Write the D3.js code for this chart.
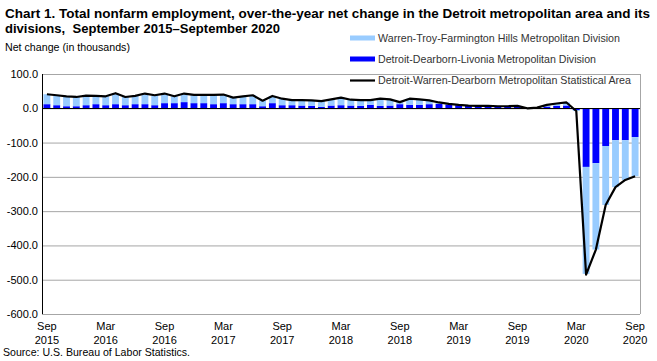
<!DOCTYPE html>
<html><head><meta charset="utf-8">
<script src="https://cdn.jsdelivr.net/npm/d3@7"></script>
<style>body{margin:0;background:#fff}svg{display:block;font-family:"Liberation Sans",Arial,sans-serif}</style>
</head><body><svg id="c" width="657" height="361"></svg>
<script>
const categories = [
"Sep 2015","Oct 2015","Nov 2015","Dec 2015","Jan 2016","Feb 2016","Mar 2016","Apr 2016","May 2016","Jun 2016","Jul 2016","Aug 2016",
"Sep 2016","Oct 2016","Nov 2016","Dec 2016","Jan 2017","Feb 2017","Mar 2017","Apr 2017","May 2017","Jun 2017","Jul 2017","Aug 2017",
"Sep 2017","Oct 2017","Nov 2017","Dec 2017","Jan 2018","Feb 2018","Mar 2018","Apr 2018","May 2018","Jun 2018","Jul 2018","Aug 2018",
"Sep 2018","Oct 2018","Nov 2018","Dec 2018","Jan 2019","Feb 2019","Mar 2019","Apr 2019","May 2019","Jun 2019","Jul 2019","Aug 2019",
"Sep 2019","Oct 2019","Nov 2019","Dec 2019","Jan 2020","Feb 2020","Mar 2020","Apr 2020","May 2020","Jun 2020","Jul 2020","Aug 2020",
"Sep 2020"];
// Detroit-Dearborn-Livonia Metropolitan Division (thousands)
const dearborn = [12,9,6,6,9,12,9,12,9,12,12,9,15,15,18,15,15,12,15,12,12,12,6,15,9,9,8,7,4,8,9,8,7,10,7,8,12,10,10,12,13,11,9,8,8,6,5,5,6,-1,1,5,7,8,-5,-171,-160,-110,-93,-93,-84];
// Warren-Troy-Farmington Hills Metropolitan Division (thousands)
const warren = [29,29,29,27,28,24,26,32,24,24,31,29,28,20,25,24,24,27,25,19,23,26,16,21,19,15,16,16,17,18,22,17,17,14,21,18,6,18,16,11,4,2,1,0,-1,1,1,1,1,1,1,5,7,9,-3,-312,-252,-172,-137,-116,-114];
// Detroit-Warren-Dearborn MSA (thousands)
const msa = [41,38,35,33,37,36,35,44,33,36,43,38,43,35,43,39,39,39,40,31,35,38,22,36,28,24,24,23,21,26,31,25,24,24,28,26,18,28,26,23,17,13,10,8,7,7,6,6,7,0,2,10,14,17,-8,-485,-412,-282,-230,-209,-198];
const yTicks = [100,0,-100,-200,-300,-400,-500,-600];
const xTickCats = ["Sep 2015","Mar 2016","Sep 2016","Mar 2017","Sep 2017","Mar 2018","Sep 2018","Mar 2019","Sep 2019","Mar 2020","Sep 2020"];
const seriesNames = ["Warren-Troy-Farmington Hills Metropolitan Division","Detroit-Dearborn-Livonia Metropolitan Division","Detroit-Warren-Dearborn Metropolitan Statistical Area"];

const svg = d3.select("#c");
const L = 42, R = 640, T = 74, B = 314;
const x = d3.scaleBand().domain(categories).range([L, R]).paddingInner(0.3).paddingOuter(0.15);
const y = d3.scaleLinear().domain([-600, 100]).range([B, T]);

// titles
svg.append("text").attr("x",5).attr("y",18).attr("font-size","13.5px").attr("font-weight","bold")
  .attr("textLength",645).attr("lengthAdjust","spacingAndGlyphs")
  .text("Chart 1. Total nonfarm employment, over-the-year net change in the Detroit metropolitan area and its");
svg.append("text").attr("x",5).attr("y",33).attr("font-size","13.5px").attr("font-weight","bold")
  .style("white-space","pre")
  .attr("textLength",275).attr("lengthAdjust","spacingAndGlyphs")
  .text("divisions,  September 2015\u2013September 2020");
svg.append("text").attr("x",5).attr("y",51).attr("font-size","10.5px")
  .attr("textLength",125).attr("lengthAdjust","spacingAndGlyphs")
  .text("Net change (in thousands)");

// grid + y axis
const gy = svg.append("g").attr("transform",`translate(${L},0)`)
  .call(d3.axisLeft(y).tickValues(yTicks).tickSize(-(R-L)).tickPadding(4).tickFormat(d => d.toFixed(1)));
gy.select(".domain").remove();
gy.selectAll(".tick line").attr("stroke","#a6a6a6").attr("stroke-width",1);
gy.selectAll(".tick text").attr("font-size","11px").attr("fill","#000").attr("font-family","Liberation Sans, Arial, sans-serif");
// right border
svg.append("line").attr("x1",R+0.5).attr("x2",R+0.5).attr("y1",T).attr("y2",B).attr("stroke","#a6a6a6");

// stacked bars
const rows = categories.map((c,i) => ({cat:c, dearborn:dearborn[i], warren:warren[i]}));
const stack = d3.stack().keys(["dearborn","warren"]).offset(d3.stackOffsetDiverging)(rows);
const colors = {dearborn:"#0000ff", warren:"#99ccff"};
svg.append("g").selectAll("g").data(stack).join("g").attr("fill", s => colors[s.key])
  .selectAll("rect").data(s => s).join("rect")
  .attr("x", d => x(d.data.cat)).attr("width", x.bandwidth())
  .attr("y", d => y(Math.max(d[0], d[1]))).attr("height", d => Math.abs(y(d[0]) - y(d[1])));

// zero line and y axis line
svg.append("line").attr("x1",L).attr("x2",R).attr("y1",Math.round(y(0))+0.5).attr("y2",Math.round(y(0))+0.5).attr("stroke","#000");
svg.append("line").attr("x1",L+0.5).attr("x2",L+0.5).attr("y1",T).attr("y2",B).attr("stroke","#000");

// MSA line
svg.append("path").datum(msa).attr("fill","none").attr("stroke","#000").attr("stroke-width",2.2)
  .attr("stroke-linejoin","round")
  .attr("d", d3.line().x((d,i) => x(categories[i]) + x.bandwidth()/2).y(d => y(d)));

// x labels
const xl = svg.append("g").attr("font-size","11px").attr("text-anchor","middle");
xTickCats.forEach(c => {
  const cx = x(c) + x.bandwidth()/2;
  const [m, yr] = c.split(" ");
  xl.append("text").attr("x",cx).attr("y",330).text(m);
  xl.append("text").attr("x",cx).attr("y",344).text(yr);
});

// legend
const lg = svg.append("g").attr("font-size","11px").attr("fill","#333");
lg.append("rect").attr("x",350).attr("y",35.5).attr("width",25).attr("height",5).attr("fill",colors.warren);
lg.append("rect").attr("x",350).attr("y",56.5).attr("width",25).attr("height",5).attr("fill",colors.dearborn);
lg.append("line").attr("x1",350).attr("x2",375).attr("y1",80.5).attr("y2",80.5).attr("stroke","#000").attr("stroke-width",2.2);
const lens = [242, 218, 253];
[42, 63, 84].forEach((yy,i) => {
  lg.append("text").attr("x",378).attr("y",yy).attr("textLength",lens[i]).attr("lengthAdjust","spacingAndGlyphs").text(seriesNames[i]);
});

// source
svg.append("text").attr("x",3).attr("y",356).attr("font-size","10.5px")
  .attr("textLength",187).attr("lengthAdjust","spacingAndGlyphs")
  .text("Source: U.S. Bureau of Labor Statistics.");
</script></body></html>
